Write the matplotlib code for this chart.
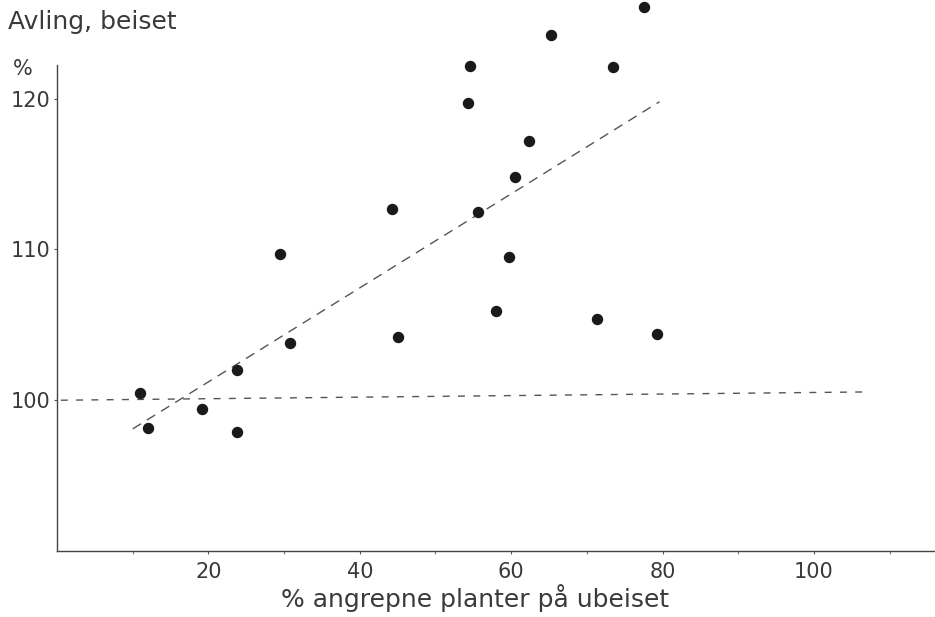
import matplotlib
matplotlib.use("Agg")
import matplotlib.pyplot as plt
import numpy as np

# attacked plants on untreated plots (%) vs. yield of treated plots (%)
attacked_pct = [11.0, 12.0, 19.1, 23.8, 23.8, 29.4, 30.8, 44.2, 45.0, 54.3, 54.5,
                55.6, 58.0, 59.7, 60.5, 62.4, 65.3, 71.3, 73.4, 77.6, 79.3]
yield_pct = [100.5, 98.15, 99.4, 102.0, 97.9, 109.7, 103.8, 112.7, 104.2, 119.7, 122.2,
             112.5, 105.9, 109.5, 114.8, 117.2, 124.2, 105.4, 122.1, 126.1, 104.4]

trend_x = [10.0, 79.6]
trend_y = [98.1, 119.8]
ref_x = [0.5, 107.0]
ref_y = [100.0, 100.55]

x_ticks = [20, 40, 60, 80, 100]
y_ticks = [100, 110, 120]

ink = "#3a3a3a"
plt.rcParams["font.family"] = ["DejaVu Sans"]

fig = plt.figure(figsize=(9.35, 6.17), dpi=100)
ax = fig.add_axes([0.061, 0.107, 0.939, 0.788])
ax.set_xlim(0, 116)
ax.set_ylim(90, 122.25)

ax.plot(ref_x, ref_y, color="#555555", linewidth=1.0, dashes=(5, 6))
ax.plot(trend_x, trend_y, color="#555555", linewidth=1.0, dashes=(7, 5))
ax.plot(attacked_pct, yield_pct, "o", color="#1a1a1a", markersize=7.2,
        clip_on=False, zorder=3)

for side in ("top", "right"):
    ax.spines[side].set_visible(False)
for side in ("left", "bottom"):
    ax.spines[side].set_color("#444444")
    ax.spines[side].set_linewidth(1.0)

ax.set_xticks(x_ticks)
ax.set_xticks(range(10, 111, 10), minor=True)
ax.set_yticks(y_ticks)
ax.tick_params(axis="both", which="major", length=2, width=0.8, color="#555555",
               labelsize=15, labelcolor=ink, pad=3)
ax.tick_params(axis="x", which="major", pad=6)
ax.tick_params(axis="x", which="minor", length=2, width=0.8, color="#777777")

fig.text(0.009, 0.964, "Avling, beiset", fontsize=18, color=ink, ha="left",
         va="center")
fig.text(0.024, 0.888, "%", fontsize=15, color=ink, ha="center", va="center")
fig.text(0.508, 0.030, "% angrepne planter på ubeiset", fontsize=18, color=ink,
         ha="center", va="center")

fig.savefig("out.png", dpi=100)
